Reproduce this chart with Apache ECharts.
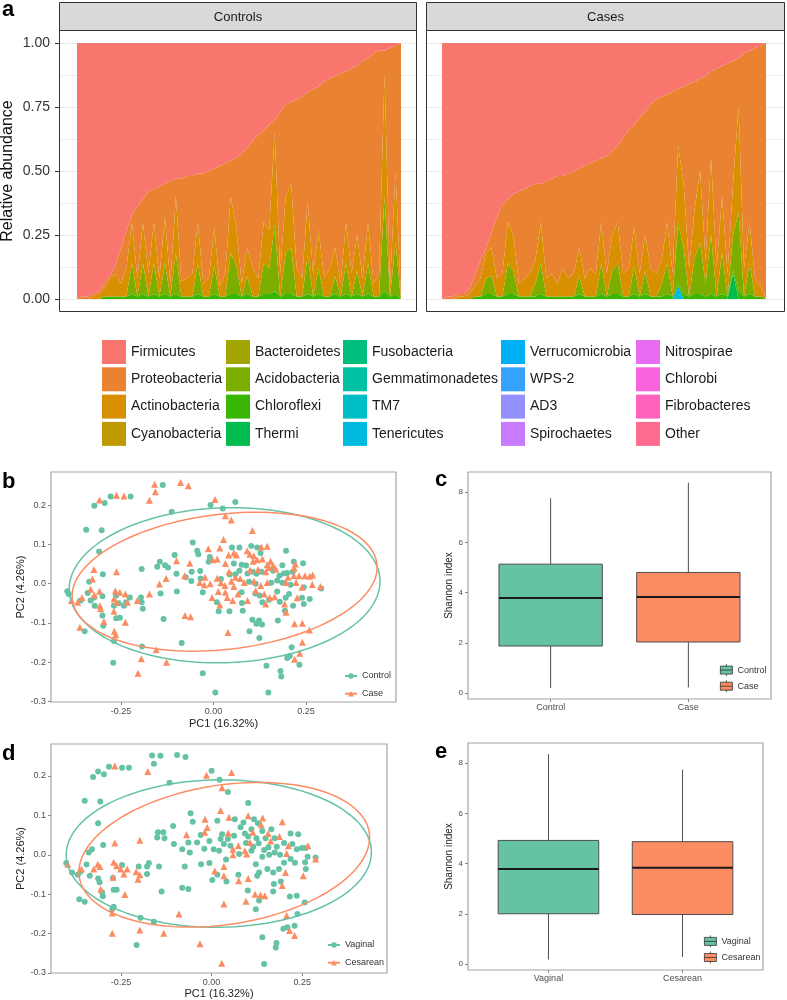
<!DOCTYPE html>
<html><head><meta charset="utf-8">
<script src="https://cdn.jsdelivr.net/npm/echarts@6/dist/echarts.min.js"></script>
<style>html,body{margin:0;padding:0;background:#fff}#c{width:787px;height:1000px}</style>
</head><body><div id="c"></div><script>
const FONT = 'Liberation Sans, Arial, Helvetica, sans-serif';

// ---------- Panel a : phyla ----------
const phyla = ['Firmicutes','Proteobacteria','Actinobacteria','Cyanobacteria','Bacteroidetes','Acidobacteria','Chloroflexi','Thermi','Fusobacteria','Gemmatimonadetes','TM7','Tenericutes','Verrucomicrobia','WPS-2','AD3','Spirochaetes','Nitrospirae','Chlorobi','Fibrobacteres','Other'];
const phylaColors = ['#F8766D','#EA8331','#D89000','#C09B00','#A3A500','#7CAE00','#39B600','#00BB4E','#00BF7D','#00C1A3','#00BFC4','#00BAE0','#00B0F6','#35A2FF','#9590FF','#C77CFF','#E76BF3','#FA62DB','#FF62BC','#FF6C91'];
const facetNames = ['Controls','Cases'];

const ctrlFirm = [1,0.99,0.99,0.98,0.97,0.94,0.91,0.87,0.80,0.73,
 0.67,0.64,0.61,0.58,0.57,0.56,0.55,0.54,0.53,0.53,
 0.52,0.52,0.51,0.51,0.50,0.49,0.48,0.47,0.46,0.45,
 0.43,0.41,0.38,0.36,0.34,0.32,0.30,0.27,0.24,0.23,
 0.22,0.21,0.19,0.18,0.17,0.15,0.14,0.13,0.12,0.11,
 0.10,0.09,0.07,0.06,0.04,0.03,0.03,0.02,0.01,0];
const ctrlProt = [0,0.01,0.01,0.01,0.01,0.02,0.01,0.03,0.14,0.15,
 0.03,0.28,0.09,0.32,0.13,0.36,0.13,0.40,0.07,0.40,
 0.40,0.38,0.19,0.43,0.42,0.23,0.47,0.43,0.14,0.27,
 0.51,0.39,0.50,0.56,0.36,0.41,0.05,0.63,0.36,0.32,
 0.66,0.71,0.43,0.72,0.56,0.77,0.74,0.67,0.82,0.59,
 0.80,0.66,0.85,0.64,0.90,0.87,0.09,0.93,0.49,1];
const ctrlActi = [0,0,0,0.01,0.02,0.03,0.07,0.09,0.05,0.11,
 0.16,0.07,0.16,0.09,0.16,0.07,0.18,0.05,0.22,0.06,
 0.07,0.09,0.16,0.05,0.07,0.15,0.04,0.09,0.22,0.15,
 0.05,0.11,0.11,0.07,0.16,0.15,0.36,0.09,0.22,0.25,
 0.11,0.07,0.21,0.09,0.15,0.07,0.11,0.11,0.05,0.16,
 0.09,0.14,0.07,0.16,0.05,0.09,0.48,0.04,0.28,0];
const ctrlAcid = [0,0,0,0,0,0,0,0,0,0,
 0.12,0,0.12,0,0.12,0,0.12,0,0.16,0,
 0,0,0.12,0,0,0.11,0,0,0.16,0.11,
 0,0.07,0,0,0.12,0.10,0.26,0,0.16,0.18,
 0,0,0.15,0,0.10,0,0,0.07,0,0.12,
 0,0.09,0,0.12,0,0,0.37,0,0.20,0];
const ctrlChlo = [0,0,0,0,0,0.01,0.01,0.01,0.01,0.01,
 0.02,0.01,0.02,0.01,0.02,0.01,0.02,0.01,0.02,0.01,
 0.01,0.01,0.02,0.01,0.01,0.02,0.01,0.01,0.02,0.02,
 0.01,0.02,0.01,0.01,0.02,0.02,0.03,0.01,0.02,0.02,
 0.01,0.01,0.02,0.01,0.02,0.01,0.01,0.02,0.01,0.02,
 0.01,0.02,0.01,0.02,0.01,0.01,0.03,0.01,0.02,0];

const caseFirm = [1,0.99,0.99,0.98,0.98,0.96,0.91,0.85,0.80,0.74,
 0.68,0.63,0.61,0.59,0.58,0.57,0.56,0.55,0.55,0.54,
 0.53,0.52,0.52,0.51,0.50,0.49,0.48,0.47,0.46,0.45,
 0.44,0.42,0.40,0.37,0.34,0.32,0.29,0.27,0.24,0.22,
 0.21,0.20,0.19,0.18,0.17,0.16,0.15,0.14,0.13,0.11,
 0.10,0.09,0.08,0.07,0.06,0.04,0.03,0.02,0.01,0];
const caseProt = [0,0.01,0.01,0.01,0.01,0.02,0.04,0.07,0.02,0.06,
 0.24,0.27,0.09,0.16,0.36,0.35,0.34,0.30,0.15,0.38,
 0.37,0.42,0.36,0.41,0.40,0.31,0.44,0.41,0.44,0.25,
 0.46,0.33,0.30,0.53,0.54,0.40,0.61,0.48,0.64,0.68,
 0.64,0.50,0.71,0.22,0.38,0.72,0.50,0.36,0.72,0.34,
 0.78,0.51,0.82,0.48,0.19,0.84,0.67,0.90,0.94,1];
const caseActi = [0,0,0,0.01,0.01,0.02,0.04,0.07,0.10,0.11,
 0.07,0.09,0.16,0.14,0.05,0.07,0.09,0.09,0.16,0.07,
 0.09,0.05,0.11,0.07,0.09,0.11,0.07,0.11,0.09,0.16,
 0.09,0.14,0.16,0.09,0.11,0.15,0.09,0.14,0.11,0.09,
 0.09,0.16,0.09,0.30,0.25,0.11,0.19,0.28,0.09,0.30,
 0.11,0.22,0.09,0.20,0.41,0.11,0.16,0.07,0.04,0];
const caseAcid = [0,0,0,0,0,0,0,0,0.06,0.07,
 0,0,0.12,0.09,0,0,0,0.05,0.12,0,
 0,0,0,0,0,0.07,0,0,0,0.12,
 0,0.09,0.12,0,0,0.11,0,0.09,0,0,
 0.05,0.12,0,0.24,0.18,0,0.14,0.20,0.05,0.23,
 0,0.16,0,0.14,0.31,0,0.12,0,0,0];
const caseChlo = [0,0,0,0,0,0,0.01,0.01,0.02,0.02,
 0.01,0.01,0.02,0.02,0.01,0.01,0.01,0.01,0.02,0.01,
 0.01,0.01,0.01,0.01,0.01,0.02,0.01,0.01,0.01,0.02,
 0.01,0.02,0.02,0.01,0.01,0.02,0.01,0.02,0.01,0.01,
 0.01,0.02,0.01,0.01,0.02,0.01,0.02,0.02,0.01,0.02,
 0.01,0.02,0.01,0.01,0.03,0.01,0.02,0.01,0.01,0];
const caseTene = [0,0,0,0,0,0,0,0,0,0, 0,0,0,0,0,0,0,0,0,0, 0,0,0,0,0,0,0,0,0,0,
 0,0,0,0,0,0,0,0,0,0, 0,0,0,0.05,0,0,0,0,0,0, 0,0,0,0,0,0,0,0,0,0];
const caseTherm = [0,0,0,0,0,0,0,0,0,0, 0,0,0,0,0,0,0,0,0,0, 0,0,0,0,0,0,0,0,0,0,
 0,0,0,0,0,0,0,0,0,0, 0,0,0,0,0,0,0,0,0,0, 0,0,0,0.10,0,0,0,0,0,0];

// ---------- Panels b & d : PCoA ----------
const bControl = [[-0.137,0.251],[-0.278,0.222],[-0.224,0.222],[-0.322,0.198],[-0.294,0.205],[-0.008,0.200],[0.025,0.191],[0.059,0.208],[-0.113,0.183],[-0.344,0.137],[-0.302,0.136],[-0.309,0.082],[-0.056,0.105],[-0.044,0.084],[-0.041,0.075],[0.050,0.092],[0.070,0.092],[0.102,0.096],[0.118,0.092],[0.127,0.078],[0.196,0.084],[-0.105,0.073],[-0.010,0.068],[-0.145,0.056],[-0.131,0.047],[-0.152,0.043],[-0.013,0.056],[0.055,0.051],[0.076,0.048],[0.088,0.046],[0.186,0.047],[0.217,0.056],[0.242,0.052],[-0.194,0.037],[-0.123,0.041],[-0.059,0.030],[-0.036,0.032],[-0.100,0.025],[-0.075,0.016],[-0.060,0.007],[-0.035,0.013],[0.020,0.012],[0.044,0.023],[0.059,0.024],[0.070,0.033],[0.092,0.026],[0.106,0.030],[0.116,0.025],[0.129,0.030],[0.161,0.033],[0.178,0.020],[0.190,0.026],[0.199,0.027],[0.214,0.030],[-0.299,0.024],[-0.336,0.005],[0.096,0.005],[0.114,0.000],[0.156,0.002],[0.172,0.008],[0.186,0.002],[0.208,-0.003],[0.244,-0.009],[0.291,-0.012],[-0.395,-0.019],[-0.391,-0.026],[-0.359,-0.043],[-0.340,-0.024],[-0.322,-0.035],[-0.332,-0.043],[-0.300,-0.032],[-0.321,-0.056],[-0.300,-0.081],[-0.298,-0.107],[-0.269,-0.056],[-0.263,-0.030],[-0.256,-0.050],[-0.236,-0.047],[-0.263,-0.088],[-0.253,-0.087],[-0.242,-0.056],[-0.226,-0.035],[-0.196,-0.035],[-0.194,-0.047],[-0.191,-0.064],[-0.143,-0.025],[-0.135,-0.090],[-0.099,-0.020],[-0.029,-0.022],[0.009,-0.047],[0.014,-0.070],[0.043,-0.070],[0.076,-0.022],[0.077,-0.049],[0.079,-0.069],[0.113,-0.025],[0.125,-0.030],[0.132,-0.047],[0.150,-0.041],[0.179,-0.046],[0.172,-0.020],[0.195,-0.036],[0.204,-0.026],[0.193,-0.069],[0.215,-0.056],[0.239,-0.036],[0.260,-0.039],[0.244,-0.052],[0.105,-0.092],[0.116,-0.102],[0.123,-0.094],[0.131,-0.104],[0.174,-0.094],[0.097,-0.121],[0.124,-0.138],[-0.348,-0.121],[-0.269,-0.146],[-0.086,-0.151],[-0.193,-0.160],[-0.271,-0.201],[-0.029,-0.228],[0.005,-0.277],[0.211,-0.162],[0.199,-0.189],[0.206,-0.184],[0.232,-0.206],[0.143,-0.209],[0.181,-0.222],[0.183,-0.236],[0.148,-0.277]];
const bCase = [[-0.159,0.253],[-0.157,0.234],[-0.089,0.257],[-0.068,0.249],[-0.173,0.212],[-0.308,0.213],[-0.262,0.225],[-0.242,0.223],[0.004,0.214],[0.032,0.173],[0.048,0.162],[0.105,0.135],[0.027,0.112],[-0.014,0.089],[0.017,0.091],[0.055,0.078],[0.091,0.084],[0.129,0.093],[0.145,0.095],[0.098,0.075],[0.109,0.071],[0.041,0.073],[0.062,0.073],[-0.100,0.058],[-0.064,0.052],[-0.002,0.061],[0.010,0.063],[0.032,0.051],[0.107,0.057],[0.118,0.061],[0.132,0.063],[0.145,0.048],[0.154,0.057],[0.161,0.046],[0.168,0.037],[0.221,0.050],[0.218,0.039],[-0.078,0.020],[-0.037,0.003],[-0.023,0.016],[0.010,0.014],[0.042,0.030],[0.059,0.016],[0.072,0.013],[0.099,0.035],[0.120,0.036],[0.141,0.030],[0.150,0.041],[0.201,0.016],[0.217,0.020],[0.231,0.020],[0.247,0.020],[0.260,0.019],[0.268,0.022],[-0.323,0.036],[-0.262,0.030],[-0.327,0.012],[-0.128,0.013],[-0.146,-0.001],[-0.025,-0.003],[-0.009,0.000],[0.020,0.002],[0.031,-0.005],[0.048,0.006],[0.055,-0.007],[0.083,0.003],[0.109,0.006],[0.128,-0.005],[0.145,0.003],[0.196,0.003],[0.223,0.003],[0.239,-0.009],[0.267,-0.002],[0.289,-0.007],[-0.384,-0.043],[-0.367,-0.047],[-0.355,-0.035],[-0.332,-0.014],[-0.322,-0.029],[-0.308,-0.019],[-0.307,-0.056],[-0.305,-0.064],[-0.296,-0.096],[-0.269,-0.039],[-0.265,-0.018],[-0.262,-0.047],[-0.253,-0.022],[-0.238,-0.026],[-0.233,-0.047],[-0.269,-0.070],[-0.206,-0.043],[-0.173,-0.026],[-0.238,-0.098],[-0.077,-0.081],[-0.062,-0.084],[-0.004,-0.035],[0.013,-0.020],[0.017,-0.054],[0.032,-0.022],[0.037,-0.035],[0.052,-0.043],[0.066,-0.026],[0.092,-0.043],[0.114,-0.018],[0.137,-0.026],[0.141,-0.052],[0.152,-0.035],[0.165,-0.033],[0.192,-0.052],[0.196,-0.073],[0.226,-0.036],[0.219,-0.102],[0.240,-0.101],[0.259,-0.118],[0.039,-0.124],[-0.268,-0.121],[-0.264,-0.130],[-0.361,-0.111],[-0.155,-0.168],[-0.195,-0.191],[-0.127,-0.200],[-0.204,-0.228],[0.240,-0.149],[0.233,-0.177],[0.219,-0.192]];
const dVaginal = [[-0.327,0.197],[-0.313,0.211],[-0.297,0.204],[-0.283,0.223],[-0.247,0.221],[-0.228,0.221],[-0.164,0.252],[-0.141,0.251],[-0.159,0.231],[-0.095,0.253],[-0.072,0.248],[0.000,0.213],[0.022,0.190],[-0.116,0.183],[0.045,0.159],[-0.350,0.137],[-0.307,0.135],[0.101,0.131],[-0.313,0.080],[-0.058,0.105],[-0.052,0.084],[0.016,0.086],[0.064,0.090],[0.088,0.082],[0.117,0.090],[0.128,0.080],[-0.106,0.073],[-0.148,0.057],[-0.133,0.057],[-0.150,0.044],[-0.130,0.042],[-0.064,0.031],[-0.040,0.031],[-0.104,0.027],[-0.081,0.014],[-0.060,0.006],[-0.006,0.035],[0.006,0.014],[0.025,0.040],[0.029,0.052],[0.062,0.048],[0.052,0.023],[0.092,0.054],[0.101,0.046],[0.124,0.042],[0.130,0.029],[0.149,0.042],[0.174,0.042],[0.218,0.054],[0.239,0.052],[0.223,0.027],[0.235,0.014],[0.249,0.017],[0.260,0.017],[0.218,-0.011],[0.265,-0.005],[0.258,-0.019],[0.287,-0.007],[0.076,0.002],[0.110,0.010],[0.145,0.012],[0.159,0.000],[0.174,0.006],[0.189,0.000],[0.157,0.019],[0.034,0.027],[0.021,0.010],[0.040,-0.012],[-0.006,-0.021],[-0.029,-0.024],[-0.074,-0.030],[-0.173,-0.021],[-0.201,-0.030],[0.002,-0.064],[0.016,-0.051],[0.041,-0.068],[0.074,-0.051],[0.122,-0.024],[0.126,-0.053],[0.131,-0.045],[0.154,-0.036],[0.170,-0.045],[0.186,-0.036],[0.172,-0.074],[0.170,-0.093],[0.191,-0.068],[0.100,-0.091],[0.131,-0.116],[0.122,-0.138],[0.216,-0.106],[0.235,-0.104],[0.257,-0.121],[0.260,-0.036],[0.209,-0.184],[0.237,-0.150],[0.198,-0.188],[0.229,-0.180],[0.140,-0.209],[0.179,-0.224],[0.177,-0.235],[0.145,-0.277],[-0.196,-0.160],[-0.159,-0.170],[-0.207,-0.229],[-0.270,-0.132],[-0.274,-0.138],[-0.138,-0.093],[-0.081,-0.084],[-0.064,-0.087],[-0.401,-0.021],[-0.385,-0.045],[-0.369,-0.051],[-0.345,-0.025],[-0.336,-0.053],[-0.313,-0.060],[-0.309,-0.070],[-0.302,-0.095],[-0.300,-0.105],[-0.339,0.006],[-0.330,0.014],[-0.299,0.025],[-0.362,-0.043],[-0.365,-0.113],[-0.350,-0.119],[-0.272,-0.059],[-0.270,-0.089],[-0.262,-0.089],[-0.247,-0.026],[-0.178,-0.030],[-0.145,-0.030],[-0.178,-0.049],[0.080,0.070],[0.110,0.065],[0.140,0.060],[0.165,0.065],[0.180,0.020],[0.200,0.030],[0.095,0.030],[0.115,0.020],[-0.030,0.050],[-0.020,0.015],[0.045,0.040],[0.140,-0.005],[0.200,-0.020],[0.230,-0.020]];
const dCesarean = [[-0.267,0.225],[-0.176,0.211],[-0.014,0.202],[0.055,0.209],[0.029,0.170],[0.025,0.112],[-0.018,0.090],[0.048,0.095],[0.101,0.099],[0.141,0.093],[0.137,0.076],[0.195,0.084],[-0.012,0.069],[-0.019,0.057],[-0.069,0.051],[0.046,0.055],[0.074,0.023],[0.114,0.057],[0.106,0.031],[0.156,0.054],[0.163,0.035],[0.187,0.046],[0.212,0.023],[0.207,0.003],[0.266,0.023],[0.287,-0.011],[0.059,0.014],[0.059,0.000],[0.092,0.010],[0.097,0.002],[0.009,-0.041],[0.034,-0.030],[0.034,-0.053],[0.075,-0.066],[0.101,-0.060],[0.204,-0.045],[0.195,-0.078],[0.135,-0.102],[0.120,-0.100],[0.147,-0.104],[0.095,-0.118],[0.034,-0.125],[0.253,-0.053],[0.207,-0.154],[0.215,-0.192],[0.229,-0.205],[0.028,-0.275],[-0.032,-0.226],[-0.090,-0.150],[-0.132,-0.199],[-0.198,-0.191],[-0.274,-0.199],[-0.274,-0.148],[-0.239,-0.101],[-0.397,-0.024],[-0.359,-0.036],[-0.325,-0.036],[-0.314,-0.024],[-0.308,-0.030],[-0.306,-0.087],[-0.267,0.030],[-0.270,-0.019],[-0.262,-0.028],[-0.251,-0.036],[-0.272,-0.057],[-0.242,-0.049],[-0.233,-0.036],[-0.198,0.037],[-0.208,-0.043],[-0.203,-0.062],[-0.198,-0.051]];
// ellipse: [centre x, centre y, semi-axis a, semi-axis b, angle rad]
const bEllControl = [0.030, -0.004, 0.420, 0.197, 0.03];
const bEllCase = [0.030, 0.005, 0.414, 0.172, 0.107];
const dEllVaginal = [0.020, 0.003, 0.421, 0.187, 0.01];
const dEllCesarean = [0.035, 0.000, 0.404, 0.177, 0.135];
const pcXTicks = [-0.25, 0, 0.25];
const pcYTicks = [-0.3, -0.2, -0.1, 0, 0.1, 0.2];

// ---------- Panels c & e : Shannon ----------
const cCats = ['Control','Case'];
const eCats = ['Vaginal','Cesarean'];
// [min, Q1, median, Q3, max]
const ctrlBox = [0.20, 1.87, 3.78, 5.13, 7.75];
const caseBox = [0.22, 2.03, 3.82, 4.80, 8.38];
const vagBox = [0.18, 2.00, 3.78, 4.92, 8.36];
const cesBox = [0.28, 1.97, 3.83, 4.87, 7.74];
const shannonTicks = [0, 2, 4, 6, 8];

const GREEN = '#66C2A5', ORANGE = '#FC8D62';

// ---------- build ----------
const ctrlByPhylum = {Firmicutes: ctrlFirm, Proteobacteria: ctrlProt, Actinobacteria: ctrlActi, Acidobacteria: ctrlAcid, Chloroflexi: ctrlChlo};
const caseByPhylum = {Firmicutes: caseFirm, Proteobacteria: caseProt, Actinobacteria: caseActi, Acidobacteria: caseAcid, Chloroflexi: caseChlo, Tenericutes: caseTene, Thermi: caseTherm};
const sampleIds = ctrlFirm.map((v, i) => 'S' + (i + 1));

const series = [];
[ctrlByPhylum, caseByPhylum].forEach((tab, f) => {
  for (let k = phyla.length - 1; k >= 0; k--) {
    series.push({
      type: 'line', name: phyla[k], xAxisIndex: 6 + f, yAxisIndex: 6 + f, stack: 'facet' + f,
      symbol: 'none', silent: true, color: phylaColors[k],
      lineStyle: {width: 0}, areaStyle: {opacity: 1, color: phylaColors[k]},
      data: tab[phyla[k]] || []
    });
  }
});

function ellipsePts(p) {
  const [cx, cy, a, b, th] = p, pts = [];
  for (let k = 0; k <= 120; k++) {
    const t = 2 * Math.PI * k / 120;
    pts.push([cx + a * Math.cos(t) * Math.cos(th) - b * Math.sin(t) * Math.sin(th),
              cy + a * Math.cos(t) * Math.sin(th) + b * Math.sin(t) * Math.cos(th)]);
  }
  return pts;
}
function pcSeries(gi, name, sym, col, ell, pts, size) {
  series.push({type: 'line', name, xAxisIndex: gi, yAxisIndex: gi, data: ellipsePts(ell),
    symbol: sym, showSymbol: false, symbolSize: 6, silent: true, z: 4,
    lineStyle: {width: 1.5, color: col}, itemStyle: {color: col}});
  series.push({type: 'scatter', name, xAxisIndex: gi, yAxisIndex: gi, data: pts,
    symbol: sym, symbolSize: size, itemStyle: {color: col, opacity: 1}, z: 3});
}
pcSeries(2, 'Control', 'circle', GREEN, bEllControl, bControl, 6);
pcSeries(2, 'Case', 'triangle', ORANGE, bEllCase, bCase, 7);
pcSeries(4, 'Vaginal', 'circle', GREEN, dEllVaginal, dVaginal, 6);
pcSeries(4, 'Cesarean', 'triangle', ORANGE, dEllCesarean, dCesarean, 7);

function boxRender(params, api) {
  const x = api.value(0);
  const pMax = api.coord([x, api.value(5)]), pQ3 = api.coord([x, api.value(4)]);
  const pMd = api.coord([x, api.value(3)]), pQ1 = api.coord([x, api.value(2)]);
  const pMin = api.coord([x, api.value(1)]);
  const hw = api.size([0.75, 0])[0] / 2;
  const st = {stroke: '#4D4D4D', lineWidth: 1};
  return {type: 'group', children: [
    {type: 'line', shape: {x1: pMax[0], y1: pMax[1], x2: pQ3[0], y2: pQ3[1]}, style: st},
    {type: 'line', shape: {x1: pQ1[0], y1: pQ1[1], x2: pMin[0], y2: pMin[1]}, style: st},
    {type: 'rect', shape: {x: pQ3[0] - hw, y: pQ3[1], width: 2 * hw, height: pQ1[1] - pQ3[1]},
      style: {fill: api.visual('color'), stroke: '#4D4D4D', lineWidth: 1}},
    {type: 'line', shape: {x1: pMd[0] - hw, y1: pMd[1], x2: pMd[0] + hw, y2: pMd[1]},
      style: {stroke: '#1A1A1A', lineWidth: 2}}
  ]};
}
function boxSeries(gi, name, pos, stats, col) {
  series.push({type: 'custom', name, xAxisIndex: gi, yAxisIndex: gi, renderItem: boxRender,
    itemStyle: {color: col}, encode: {x: 0, y: [1, 2, 3, 4, 5]},
    data: [[pos].concat(stats)]});
}
boxSeries(3, 'Control ', 1, ctrlBox, GREEN);
boxSeries(3, 'Case ', 2, caseBox, ORANGE);
boxSeries(5, 'Vaginal ', 1, vagBox, GREEN);
boxSeries(5, 'Cesarean ', 2, cesBox, ORANGE);

// grids
const frame = {show: true, borderColor: '#A6A6A6', borderWidth: 1.2};
const grids = [
  {left: 59, top: 43, width: 358, height: 256},
  {left: 426, top: 43, width: 359, height: 256},
  Object.assign({left: 51, top: 472, width: 345, height: 230}, frame),
  Object.assign({left: 468, top: 472, width: 303, height: 227}, frame),
  Object.assign({left: 51, top: 744, width: 336, height: 229}, frame),
  Object.assign({left: 468, top: 743, width: 295, height: 227}, frame),
  {left: 77, top: 43, width: 324, height: 256},
  {left: 442, top: 43, width: 324, height: 256}
].map(g => Object.assign({outerBoundsMode: 'none', containLabel: false}, g));

const tickLbl = {fontSize: 9, color: '#4D4D4D', fontFamily: FONT};
const noLine = {show: false, onZero: false};
const xAxes = [
  {gridIndex: 0, type: 'value', min: 0, max: 1, show: false},
  {gridIndex: 1, type: 'value', min: 0, max: 1, show: false},
  {gridIndex: 2, type: 'value', min: -0.439, max: 0.493, axisLine: noLine, splitLine: {show: false},
    axisTick: {customValues: pcXTicks, length: 3, lineStyle: {color: '#888'}},
    axisLabel: Object.assign({customValues: pcXTicks, margin: 5, formatter: v => v.toFixed(2)}, tickLbl),
    name: 'PC1 (16.32%)', nameLocation: 'middle', nameGap: 16, nameTextStyle: {fontSize: 11, color: '#222', fontFamily: FONT}},
  {gridIndex: 3, type: 'value', min: 0.4, max: 2.6, axisLine: noLine, splitLine: {show: false},
    axisTick: {customValues: [1, 2], length: 3, lineStyle: {color: '#888'}},
    axisLabel: Object.assign({customValues: [1, 2], margin: 4, formatter: v => cCats[Math.round(v) - 1]}, tickLbl)},
  {gridIndex: 4, type: 'value', min: -0.443, max: 0.484, axisLine: noLine, splitLine: {show: false},
    axisTick: {customValues: pcXTicks, length: 3, lineStyle: {color: '#888'}},
    axisLabel: Object.assign({customValues: pcXTicks, margin: 5, formatter: v => v.toFixed(2)}, tickLbl),
    name: 'PC1 (16.32%)', nameLocation: 'middle', nameGap: 15, nameTextStyle: {fontSize: 11, color: '#222', fontFamily: FONT}},
  {gridIndex: 5, type: 'value', min: 0.4, max: 2.6, axisLine: noLine, splitLine: {show: false},
    axisTick: {customValues: [1, 2], length: 3, lineStyle: {color: '#888'}},
    axisLabel: Object.assign({customValues: [1, 2], margin: 4, formatter: v => eCats[Math.round(v) - 1]}, tickLbl)},
  {gridIndex: 6, type: 'category', data: sampleIds, boundaryGap: false, show: false},
  {gridIndex: 7, type: 'category', data: sampleIds, boundaryGap: false, show: false}
];
const gridLine = {lineStyle: {color: '#EBEBEB', width: 1}};
const yAxes = [
  {gridIndex: 0, type: 'value', min: 0, max: 1, interval: 0.25, axisLine: noLine,
    axisTick: {show: true, length: 4, lineStyle: {color: '#333'}},
    axisLabel: {fontSize: 14, color: '#333', margin: 9, fontFamily: FONT, formatter: v => v.toFixed(2)},
    splitLine: gridLine, minorTick: {show: false, splitNumber: 2}, minorSplitLine: {show: true, lineStyle: {color: '#EEEEEE', width: 1}},
    name: 'Relative abundance', nameLocation: 'middle', nameGap: 43, nameTextStyle: {fontSize: 16, color: '#111', fontFamily: FONT}},
  {gridIndex: 1, type: 'value', min: 0, max: 1, interval: 0.25, axisLine: noLine,
    axisTick: {show: false}, axisLabel: {show: false},
    splitLine: gridLine, minorTick: {show: false, splitNumber: 2}, minorSplitLine: {show: true, lineStyle: {color: '#EEEEEE', width: 1}}},
  {gridIndex: 2, type: 'value', min: -0.301, max: 0.284, axisLine: noLine, splitLine: {show: false},
    axisTick: {customValues: pcYTicks, length: 3, lineStyle: {color: '#888'}},
    axisLabel: Object.assign({customValues: pcYTicks, margin: 5, formatter: v => v.toFixed(1)}, tickLbl),
    name: 'PC2 (4.26%)', nameLocation: 'middle', nameGap: 23, nameTextStyle: {fontSize: 11, color: '#222', fontFamily: FONT}},
  {gridIndex: 3, type: 'value', min: -0.24, max: 8.8, axisLine: noLine, splitLine: {show: false},
    axisTick: {customValues: shannonTicks, length: 3, lineStyle: {color: '#888'}},
    axisLabel: Object.assign({customValues: shannonTicks, margin: 5, formatter: v => String(v)}, tickLbl, {fontSize: 8}),
    name: 'Shannon index', nameLocation: 'middle', nameGap: 13, nameTextStyle: {fontSize: 10, color: '#222', fontFamily: FONT}},
  {gridIndex: 4, type: 'value', min: -0.300, max: 0.281, axisLine: noLine, splitLine: {show: false},
    axisTick: {customValues: pcYTicks, length: 3, lineStyle: {color: '#888'}},
    axisLabel: Object.assign({customValues: pcYTicks, margin: 5, formatter: v => v.toFixed(1)}, tickLbl),
    name: 'PC2 (4.26%)', nameLocation: 'middle', nameGap: 23, nameTextStyle: {fontSize: 11, color: '#222', fontFamily: FONT}},
  {gridIndex: 5, type: 'value', min: -0.24, max: 8.8, axisLine: noLine, splitLine: {show: false},
    axisTick: {customValues: shannonTicks, length: 3, lineStyle: {color: '#888'}},
    axisLabel: Object.assign({customValues: shannonTicks, margin: 5, formatter: v => String(v)}, tickLbl, {fontSize: 8}),
    name: 'Shannon index', nameLocation: 'middle', nameGap: 13, nameTextStyle: {fontSize: 10, color: '#222', fontFamily: FONT}},
  {gridIndex: 6, type: 'value', min: 0, max: 1, show: false},
  {gridIndex: 7, type: 'value', min: 0, max: 1, show: false}
];

// legends
const legendCols = [102, 226, 343, 501, 636];
const legends = legendCols.map((x, k) => ({
  data: phyla.slice(4 * k, 4 * k + 4), orient: 'vertical', left: x, top: 340, padding: 0,
  itemWidth: 24, itemHeight: 24, itemGap: 3.3, icon: 'rect', selectedMode: false,
  textStyle: {fontSize: 14, color: '#1A1A1A', fontFamily: FONT}
}));
const boxIcon = 'path://M0,2H12V10H0Z M6,0V2 M6,10V12 M0,6H12';
legends.push(
  {data: ['Control', 'Case'], orient: 'vertical', left: 344, top: 671.5, padding: 0, itemWidth: 12, itemHeight: 7, itemGap: 8.7,
    selectedMode: false, textStyle: {fontSize: 9, color: '#333', fontFamily: FONT}},
  {data: ['Vaginal', 'Cesarean'], orient: 'vertical', left: 327, top: 940.5, padding: 0, itemWidth: 12, itemHeight: 7, itemGap: 8.7,
    selectedMode: false, textStyle: {fontSize: 9, color: '#333', fontFamily: FONT}},
  {data: ['Control ', 'Case '], orient: 'vertical', left: 720, top: 663.7, padding: 0, itemWidth: 12, itemHeight: 12, itemGap: 3.3,
    icon: boxIcon, itemStyle: {borderColor: '#333', borderWidth: 0.8}, formatter: n => n.trim(),
    selectedMode: false, textStyle: {fontSize: 9, color: '#333', fontFamily: FONT}},
  {data: ['Vaginal ', 'Cesarean '], orient: 'vertical', left: 704, top: 935, padding: 0, itemWidth: 12, itemHeight: 12, itemGap: 3.3,
    icon: boxIcon, itemStyle: {borderColor: '#333', borderWidth: 0.8}, formatter: n => n.trim(),
    selectedMode: false, textStyle: {fontSize: 9, color: '#333', fontFamily: FONT}}
);

// graphics: strips, panel frames, panel letters
const strips = [[59.5, 357, facetNames[0]], [426.5, 358, facetNames[1]]];
const graphics = [];
strips.forEach(([x, w, t]) => {
  graphics.push({type: 'rect', shape: {x: x, y: 2.5, width: w, height: 28}, style: {fill: '#D9D9D9', stroke: '#333', lineWidth: 1}, z: 100});
  graphics.push({type: 'text', x: x + w / 2, y: 17, style: {text: t, fontSize: 13, fontFamily: FONT, fill: '#1A1A1A', textAlign: 'center', textVerticalAlign: 'middle'}, z: 101});
  graphics.push({type: 'rect', shape: {x: x, y: 30.5, width: w, height: 281}, style: {fill: null, stroke: '#333', lineWidth: 1}, z: 100});
});
[['a', 2, 10], ['b', 2, 482.3], ['c', 435, 480.3], ['d', 2, 754.3], ['e', 435, 752.3]].forEach(([t, x, y]) => {
  graphics.push({type: 'text', x, y, style: {text: t, fontSize: 22, fontWeight: 'bold', fontFamily: FONT, fill: '#000', textVerticalAlign: 'middle'}, z: 101});
});

const chart = echarts.init(document.getElementById('c'), null, {renderer: 'canvas'});
chart.setOption({
  animation: false,
  backgroundColor: '#fff',
  textStyle: {fontFamily: FONT},
  grid: grids, xAxis: xAxes, yAxis: yAxes,
  legend: legends,
  series: series,
  graphic: {elements: graphics}
});
</script></body></html>
